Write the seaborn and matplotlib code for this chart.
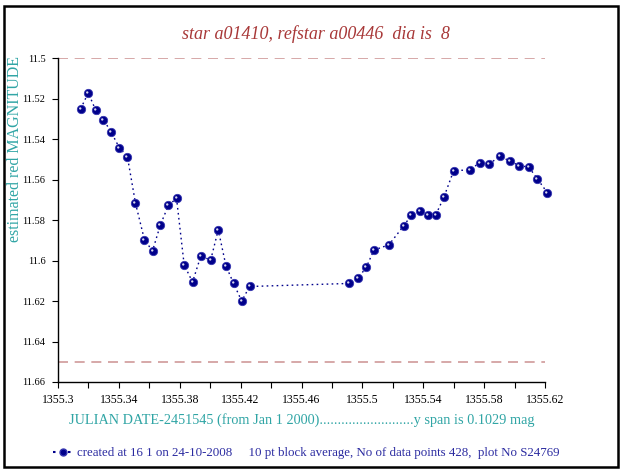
import numpy as np
import matplotlib
matplotlib.use("Agg")
import matplotlib.pyplot as plt
import matplotlib.ticker as mticker
from matplotlib.lines import Line2D
from matplotlib.patches import Rectangle
from matplotlib.path import Path
import seaborn as sns
import pandas as pd

# block-averaged points
jd = [1355.3149, 1355.3199, 1355.3248, 1355.3298, 1355.3349, 1355.3402, 1355.3456,
      1355.3509, 1355.3568, 1355.3621, 1355.3673, 1355.3726, 1355.3779, 1355.3829,
      1355.3884, 1355.3939, 1355.4003, 1355.4053, 1355.4104, 1355.4154, 1355.4207,
      1355.4259, 1355.4909, 1355.4973, 1355.5026, 1355.5076, 1355.5174, 1355.5273,
      1355.5322, 1355.5379, 1355.5429, 1355.5482, 1355.5535, 1355.5600, 1355.5704,
      1355.5772, 1355.5833, 1355.5903, 1355.5967, 1355.6028, 1355.6094, 1355.6149,
      1355.6215]
mag = [11.5249, 11.5171, 11.5257, 11.5303, 11.5364, 11.5441, 11.5486,
       11.5716, 11.5897, 11.5952, 11.5823, 11.5726, 11.5693, 11.6021,
       11.6106, 11.5976, 11.5998, 11.5848, 11.6027, 11.6113, 11.6200,
       11.6128, 11.6113, 11.6086, 11.6032, 11.5948, 11.5922, 11.5827,
       11.5775, 11.5756, 11.5775, 11.5774, 11.5688, 11.5555, 11.5552,
       11.5516, 11.5523, 11.5484, 11.5507, 11.5530, 11.5538, 11.5595,
       11.5664]
limit_lines = [11.5, 11.65]
x_ticks = [1355.3, 1355.34, 1355.38, 1355.42, 1355.46, 1355.5, 1355.54, 1355.58, 1355.62]
x_minor = [1355.32, 1355.36, 1355.40, 1355.44, 1355.48, 1355.52, 1355.56, 1355.60]
y_ticks = [11.5, 11.52, 11.54, 11.56, 11.58, 11.6, 11.62, 11.64, 11.66]

df = pd.DataFrame({"jd": jd, "mag": mag})

sns.set_style("white")
plt.rcParams["font.family"] = ["Liberation Serif", "DejaVu Serif"]

navy = "#00008b"
teal = "#30a5a5"
darkred = "#a83838"

# small off-centre white spot to give the balls their shine
c = Path.circle((-0.3, 0.25), 0.28)
bounds = Path([(-1, -1), (1, 1)], [Path.MOVETO, Path.MOVETO])
shine = Path.make_compound_path(bounds, c)

fig = plt.figure(figsize=(6.25, 4.72), dpi=100)
ax = fig.add_axes([0.0928, 0.1907, 0.7792, 0.6858])

sns.lineplot(data=df, x="jd", y="mag", ax=ax, color=navy, linestyle=(0, (1.2, 2.4)),
             linewidth=1.0, marker="o", markersize=6, markerfacecolor=navy,
             markeredgecolor="#3535b0", markeredgewidth=0.6, clip_on=False)
sns.scatterplot(data=df, x="jd", y="mag", ax=ax, marker=shine, s=36, color="white",
                linewidth=0, alpha=0.85, clip_on=False, zorder=5)

for yv in limit_lines:
    ax.hlines(yv, x_ticks[0], x_ticks[-1], colors="#d09a9a", linestyles=(0, (6, 4)), linewidth=1.2)

ax.set_xlim(x_ticks[0], x_ticks[-1])
ax.set_ylim(y_ticks[-1], y_ticks[0])
ax.xaxis.set_major_locator(mticker.FixedLocator(x_ticks))
ax.xaxis.set_minor_locator(mticker.FixedLocator(x_minor))
ax.yaxis.set_major_locator(mticker.FixedLocator(y_ticks))
fmt = mticker.FuncFormatter(lambda v, p: "%g" % round(v, 4))
ax.xaxis.set_major_formatter(fmt)
ax.yaxis.set_major_formatter(fmt)
ax.tick_params(axis="both", which="both", direction="out", width=0.8,
               color="black", labelcolor="black", bottom=True, left=True)
ax.tick_params(axis="x", which="both", length=4, labelsize=8.5, pad=5)
ax.tick_params(axis="y", which="both", length=4, labelsize=7.5, pad=5)

for s in ["top", "right"]:
    ax.spines[s].set_visible(False)
for s in ["left", "bottom"]:
    ax.spines[s].set_color("black")
    ax.spines[s].set_linewidth(1.0)

ax.set_xlabel("JULIAN DATE-2451545 (from Jan 1 2000)..........................y span is 0.1029 mag",
              color=teal, fontsize=10.3, labelpad=5)
ax.set_ylabel("estimated red MAGNITUDE", color=teal, fontsize=11.5)
ax.yaxis.set_label_coords(-0.072, 0.72)
ax.set_title("star a01410, refstar a00446  dia is  8", color=darkred, fontsize=13,
             style="italic", pad=14, x=0.53)

handle = Line2D([], [], color=navy, linestyle=(0, (1.2, 2.4)), marker="o", markersize=5,
                markerfacecolor=navy, markeredgecolor="#3535b0")
fig.legend([handle],
           ["created at 16 1 on 24-10-2008     10 pt block average, No of data points 428,  plot No S24769"],
           loc="center", bbox_to_anchor=(0.49, 0.04), frameon=False, fontsize=9.3,
           handlelength=1.6, handletextpad=0.3, labelcolor="#2a2aa0")

fig.patches.append(Rectangle((0.007, 0.011), 0.981, 0.977, transform=fig.transFigure,
                             fill=False, edgecolor="black", linewidth=1.8))

fig.savefig("out.png", dpi=100)
